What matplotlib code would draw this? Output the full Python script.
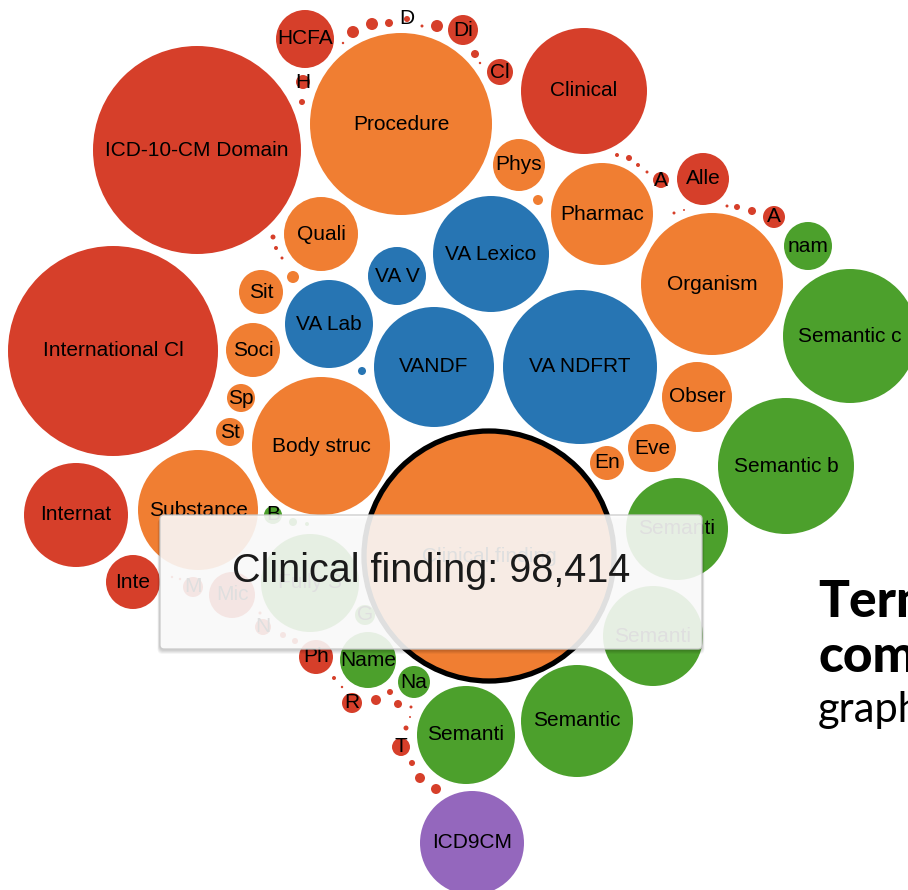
import matplotlib
matplotlib.use("Agg")
import matplotlib.pyplot as plt
import numpy as np
from matplotlib.patches import Circle, FancyBboxPatch

# ---- data: concept counts per source/semantic group (bubble area ~ count) ----
LABELS = [
    # red
    "ICD-10-CM Domain", "HCFA", "Clinical", "Di", "Cl", "D", "H",
    "", "", "", "", "", "", "", "", "",
    "A", "Alle", "", "", "", "", "A", "", "", "", "", "",
    "International Cl", "Internat", "Inte", "M", "Mic", "N",
    "", "", "", "", "",
    "Ph", "R", "T", "", "", "", "", "", "", "", "", "", "", "",
    "", "", "",
    # orange
    "Procedure", "Phys", "", "Pharmac", "Organism", "Obser", "Eve", "En",
    "Quali", "", "Sit", "Soci", "Sp", "St", "Body struc", "Substance",
    "Clinical finding",
    # blue
    "VA Lab", "VA V", "VA Lexico", "VANDF", "VA NDFRT", "",
    # green
    "nam", "Semantic c", "Semantic b", "Semanti", "Semanti", "Semantic",
    "Semanti", "Na", "Name", "Fully S", "G", "B", "", "",
    # purple
    "ICD9CM",
]
GROUPS = (["r"] * 56 + ["o"] * 17 + ["b"] * 6 + ["g"] * 14 + ["p"])
COUNTS = [
    68125, 5297, 24999, 1417, 1064, 57, 309,
    227, 227, 101, 14, 227, 101, 9, 57, 9,
    403, 4258, 25, 57, 25, 14, 762, 57, 101, 14, 14, 6,
    69441, 17031, 4592, 630, 3332, 403,
    57, 57, 14, 9, 9,
    1820, 630, 510, 157, 57, 101, 14, 6, 39, 57, 157, 157, 25, 9,
    39, 25, 14,
    52158, 4258, 157, 16382, 31751, 7716, 3628, 1820,
    8623, 227, 3049, 4592, 1235, 1235, 29987, 22675,
    98414,
    12194, 5297, 21188, 22675, 37344, 101,
    3628, 28274, 29124, 16382, 15746, 19752,
    15123, 1612, 4938, 15123, 630, 510, 101, 25,
    17031,
]
# pack layout (pixel space of the original view)
LAYOUT_X = [
    197, 305, 584, 463, 500, 407, 303,
    353, 372, 389, 422, 437, 475, 343, 302, 480,
    661, 703, 617, 629, 638, 647, 774, 737, 752, 727, 674, 684,
    113, 76, 133, 193, 232, 263,
    283, 295, 260, 172, 180,
    316, 352, 401, 376, 390, 398, 411, 410, 406, 412, 420, 436, 334, 342,
    273, 276, 282,
    401, 519, 538, 602, 712, 697, 652, 607,
    321, 293, 261, 253, 241, 230, 321, 198,
    489,
    329, 397, 491, 434, 580, 362,
    808, 850, 786, 677, 653, 577,
    466, 414, 368, 310, 365, 273, 293, 307,
    472,
]
LAYOUT_Y = [
    150, 39, 91, 30, 72, 19, 82,
    32, 24, 23, 26, 26, 54, 43, 102, 63,
    180, 179, 155, 158, 165, 172, 217, 207, 211, 206, 213, 210,
    351, 515, 582, 587, 595, 627,
    635, 641, 613, 577, 579,
    657, 703, 747, 700, 692, 704, 707, 717, 728, 763, 778, 789, 678, 687,
    237, 248, 258,
    124, 165, 200, 214, 284, 397, 448, 463,
    234, 277, 292, 350, 398, 432, 446, 510,
    556,
    324, 276, 254, 367, 367, 371,
    246, 336, 466, 529, 636, 721,
    735, 682, 660, 583, 615, 515, 522, 524,
    843,
]
SELECTED = "Clinical finding"
TOOLTIP = "Clinical finding: 98,414"

COLORS = {"r": "#d63f2a", "o": "#f07e32", "b": "#2775b3",
          "g": "#4ca02c", "p": "#9467bd"}

W, H = 908, 890
REF_R = 125.0  # radius of the largest bubble in px
k = REF_R / np.sqrt(max(COUNTS))

fig = plt.figure(figsize=(W / 100, H / 100), dpi=100)
ax = fig.add_axes([0, 0, 1, 1])
ax.set_xlim(0, W)
ax.set_ylim(H, 0)
ax.set_aspect("equal")
ax.axis("off")

for lab, grp, cnt, x, y in zip(LABELS, GROUPS, COUNTS, LAYOUT_X, LAYOUT_Y):
    r = k * np.sqrt(cnt)
    sel = lab == SELECTED
    ax.add_patch(Circle((x, y), r, facecolor=COLORS[grp],
                        edgecolor="black" if sel else "none",
                        linewidth=3.8 if sel else 0, zorder=2))
    if lab:
        ax.text(x, y, lab, ha="center", va="center", fontsize=15,
                family="Liberation Sans", color="black", zorder=3)

# tooltip: shadow + translucent box
tx0, ty0, tw, th = 160, 515, 542, 134
for i, a in enumerate([0.05, 0.05, 0.05, 0.04]):
    ax.add_patch(FancyBboxPatch((tx0 - 1 - i * 0.5, ty0 + 1 + i), tw + 2 + i, th + 1,
                                boxstyle="round,pad=0,rounding_size=5",
                                facecolor="black", edgecolor="none",
                                alpha=a, zorder=4))
ax.add_patch(FancyBboxPatch((tx0, ty0), tw, th,
                            boxstyle="round,pad=0,rounding_size=4",
                            facecolor="white", edgecolor="#c8c8c8",
                            linewidth=1, alpha=0.88, zorder=5))
ax.text(tx0 + tw / 2, 571, TOOLTIP, ha="center", va="center",
        fontsize=28.5, family="Liberation Sans", color="#1a1a1a", zorder=6)

# caption text at right (cut by the page edge)
ax.text(818, 617, "Term", ha="left", va="baseline", fontsize=37,
        family="Lato", weight="black", color="black")
ax.text(818, 672, "com", ha="left", va="baseline", fontsize=37,
        family="Lato", weight="black", color="black")
ax.text(818, 722, "graph", ha="left", va="baseline", fontsize=30,
        family="Lato", color="black")

fig.savefig("out.png", dpi=100)
